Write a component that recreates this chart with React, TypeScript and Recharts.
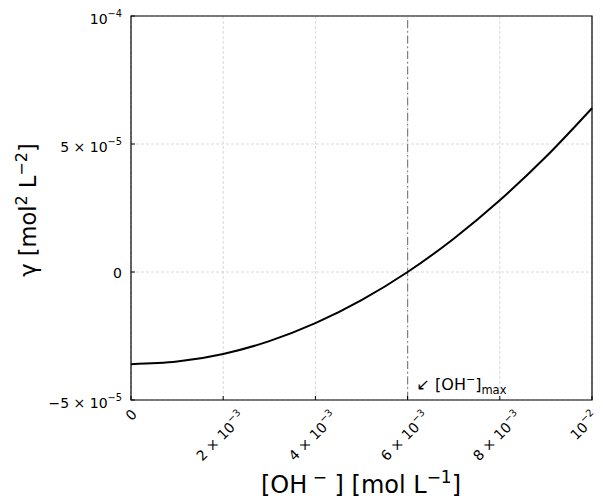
import { LineChart, Line, XAxis, YAxis, CartesianGrid, ReferenceLine, ReferenceArea } from "recharts";

const ohConc = [0, 0.001, 0.002, 0.003, 0.004, 0.005, 0.006, 0.007, 0.008, 0.009, 0.01];
const gammaValues = [-3.6e-5, -3.5e-5, -3.2e-5, -2.7e-5, -2.0e-5, -1.1e-5, 0, 1.3e-5, 2.8e-5, 4.5e-5, 6.4e-5];

const xTicks = [0, 0.002, 0.004, 0.006, 0.008, 0.01];
const xTickLabels = [["0", ""], ["2 × 10", "−3"], ["4 × 10", "−3"], ["6 × 10", "−3"], ["8 × 10", "−3"], ["10", "−2"]];
const yTicks = [-5e-5, 0, 5e-5, 1e-4];
const yTickLabels = [["−5 × 10", "−5"], ["0", ""], ["5 × 10", "−5"], ["10", "−4"]];

const ohMax = 0.006;

const data = ohConc.map((x, i) => ({ x, y: gammaValues[i] }));

const FONT = "DejaVu Sans, sans-serif";
const TICK_FS = 14;
const EXP_FS = 9.8;

// rough DejaVu Sans advance widths (em)
function textWidth(s: string, fs: number) {
  let w = 0;
  for (const c of s) w += c === " " ? 0.318 : c === "×" || c === "−" ? 0.838 : 0.636;
  return w * fs;
}

function XTick({ x, y, index }: any) {
  const [m, e] = xTickLabels[index] ?? ["", ""];
  const len = textWidth(m, TICK_FS) + textWidth(e, EXP_FS);
  const h = e ? 14 : 10;
  // rotated label: bbox centred on the tick, top edge just under the axis
  let mx = x + 0.354 * h - (e ? 4 : 0);
  mx = Math.min(mx, 599 - 0.354 * len);
  const my = y + 8 + 0.354 * (len + h) + 0.354 * h;
  return (
    <g>
      <line x1={x} y1={y} x2={x} y2={y - 4} stroke="#000" strokeWidth={1} />
      <text x={mx} y={my} textAnchor="middle" fontSize={TICK_FS} fontFamily={FONT} fill="#000" transform={`rotate(-45, ${mx}, ${my})`}>
        {m}
        {e && <tspan dy={-7} fontSize={EXP_FS}>{e}</tspan>}
      </text>
    </g>
  );
}

function YTick({ x, y, index }: any) {
  const [m, e] = yTickLabels[index] ?? ["", ""];
  return (
    <g>
      <line x1={x} y1={y} x2={x + 4} y2={y} stroke="#000" strokeWidth={1} />
      <text x={x - 9} y={y + (e ? 8 : 6)} textAnchor="end" fontSize={TICK_FS} fontFamily={FONT} fill="#000">
        {m}
        {e && <tspan dy={-7} fontSize={EXP_FS}>{e}</tspan>}
      </text>
    </g>
  );
}

export default function App() {
  return (
    <div style={{ position: "absolute", left: 0, top: 0, background: "#fff" }}>
      <LineChart width={603} height={499} data={data} margin={{ top: 16, right: 11, bottom: 0, left: 0 }}>
        <CartesianGrid stroke="#d0d0d0" strokeDasharray="3 2" strokeWidth={0.8} verticalValues={xTicks} horizontalValues={yTicks} />
        <XAxis
          dataKey="x"
          type="number"
          domain={[0, 0.01]}
          ticks={xTicks}
          interval={0}
          height={99}
          tickSize={0}
          tickMargin={0}
          tickLine={false}
          axisLine={false}
          tick={<XTick />}
          label={{
            content: () => (
              <text x={361} y={493} textAnchor="middle" fontSize={24} fontFamily={FONT} fill="#000">
                [OH<tspan dy={-10} fontSize={17}> −</tspan><tspan dy={10}> ] [mol L</tspan>
                <tspan dy={-10} fontSize={17}>−1</tspan><tspan dy={10}>]</tspan>
              </text>
            ),
          }}
        />
        <YAxis
          type="number"
          domain={[-5e-5, 1e-4]}
          ticks={yTicks}
          interval={0}
          width={131}
          tickSize={0}
          tickMargin={0}
          tickLine={false}
          axisLine={false}
          tick={<YTick />}
          label={{
            content: () => (
              <text x={36} y={210} textAnchor="middle" fontSize={22.5} fontFamily={FONT} fill="#000" transform="rotate(-90, 36, 210)">
                γ [mol<tspan dy={-9} fontSize={16}>2</tspan><tspan dy={9}> L</tspan>
                <tspan dy={-9} fontSize={16}>−2</tspan><tspan dy={9}>]</tspan>
              </text>
            ),
          }}
        />
        <ReferenceLine
          x={ohMax}
          stroke="#808080"
          strokeWidth={1.2}
          strokeDasharray="8 3 1.5 3"
          label={{
            content: (props: any) => {
              const vx = props.viewBox?.x ?? 0;
              return (
                <text x={vx + 9} y={390} fontSize={16} fontFamily={FONT} fill="#000">
                  ↙ [OH<tspan dy={-7} fontSize={11}>−</tspan><tspan dy={7}>]</tspan>
                  <tspan dy={4} fontSize={11.5}>max</tspan>
                </text>
              );
            },
          }}
        />
        <ReferenceArea x1={0} x2={0.01} y1={-5e-5} y2={1e-4} fill="none" stroke="#000" strokeWidth={1.2} ifOverflow="visible" />
        <Line dataKey="y" type="monotone" stroke="#000" strokeWidth={2} dot={false} isAnimationActive={false} />
      </LineChart>
    </div>
  );
}
